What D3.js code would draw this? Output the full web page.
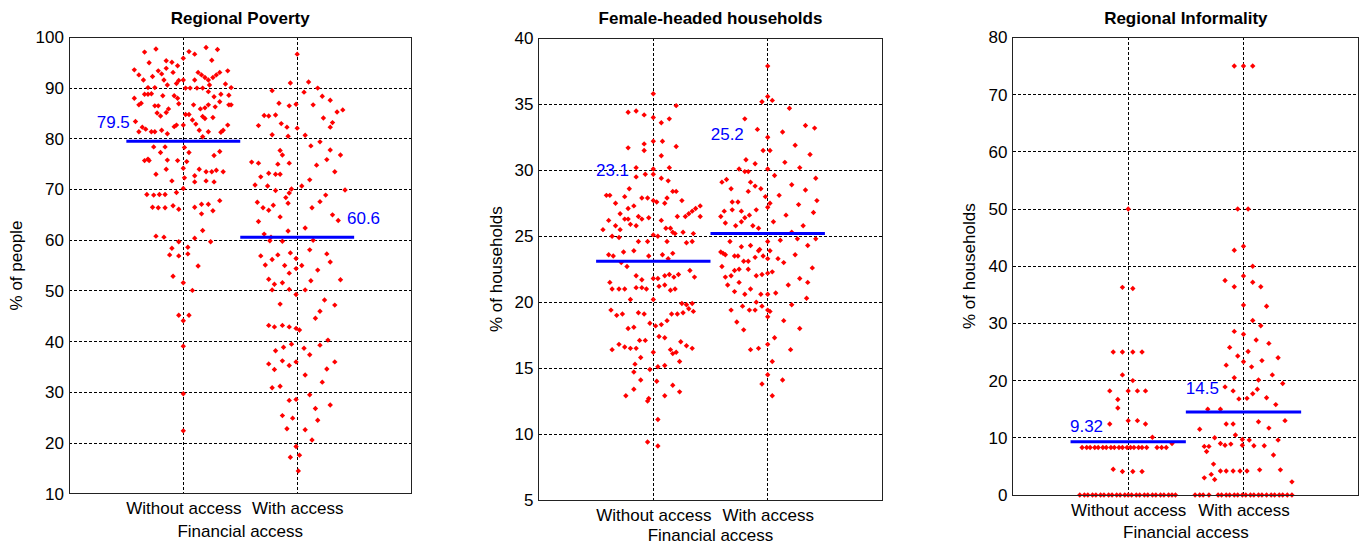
<!DOCTYPE html>
<html><head><meta charset="utf-8">
<script src="https://cdn.jsdelivr.net/npm/d3@7"></script>
<style>body{margin:0;background:#fff}svg{display:block}text{font-family:Arial,"Liberation Sans",sans-serif}</style>
</head><body><svg id="c" width="1361" height="546"></svg>
<script>
const categories = ["Without access", "With access"];
const titles = ["Regional Poverty", "Female-headed households", "Regional Informality"];
const yLabels = ["% of people", "% of households", "% of households"];
const xLabel = "Financial access";

const povertyTicks = [10,20,30,40,50,60,70,80,90,100];
const femaleTicks = [5,10,15,20,25,30,35,40];
const informalTicks = [0,10,20,30,40,50,60,70,80];

const povertyMeans = [79.5, 60.6];
const femaleMeans = [23.1, 25.2];
const informalMeans = [9.32, 14.5];

// [jitter offset from category, value]
const povertyWithout = [[-0.24,97.7],[0.20,98.0],[0.30,97.6],[-0.34,97.1],[0.05,97.2],[0.10,96.7],[0.00,95.9],[0.25,95.5],[-0.30,95.0],[-0.15,95.4],[-0.10,95.1],[-0.05,94.4],[-0.43,93.6],[-0.22,93.4],[-0.15,93.9],[-0.09,93.1],[0.16,92.6],[0.19,92.1],[0.22,91.6],[0.26,92.1],[0.29,92.6],[0.32,93.1],[0.39,93.4],[0.13,93.1],[-0.39,92.6],[-0.27,92.3],[-0.35,91.6],[-0.19,92.8],[-0.17,91.6],[-0.04,91.5],[0.00,91.6],[0.10,91.6],[-0.06,90.9],[-0.31,90.1],[-0.25,90.1],[-0.14,90.6],[0.02,90.0],[0.06,90.0],[0.12,90.0],[0.17,90.0],[0.23,90.6],[0.37,90.8],[0.42,90.1],[-0.34,88.8],[-0.31,88.8],[-0.28,88.9],[-0.18,88.5],[-0.08,88.5],[-0.05,88.0],[0.22,89.3],[0.27,88.3],[0.33,88.8],[0.40,88.6],[-0.43,88.0],[-0.37,87.0],[-0.39,86.7],[-0.25,86.5],[-0.22,86.5],[-0.15,85.2],[-0.13,85.9],[-0.04,86.9],[0.09,86.7],[0.15,85.9],[0.19,86.1],[0.22,86.7],[0.28,86.3],[0.32,87.3],[0.40,86.7],[0.42,86.7],[-0.23,85.1],[-0.20,84.5],[0.02,84.8],[0.05,84.8],[0.08,83.7],[0.11,82.9],[0.17,84.4],[0.19,84.0],[-0.42,83.4],[-0.39,81.4],[-0.36,82.3],[-0.33,81.9],[-0.28,81.4],[-0.25,81.4],[-0.19,81.7],[-0.14,81.0],[-0.08,82.4],[-0.06,82.7],[0.00,82.7],[0.14,81.7],[0.17,80.4],[0.22,81.4],[0.26,84.2],[0.33,81.3],[0.35,81.7],[0.39,82.7],[-0.26,78.4],[-0.16,78.4],[-0.20,77.3],[0.01,78.3],[0.05,77.3],[0.27,76.7],[0.32,77.5],[-0.34,75.7],[-0.31,76.0],[-0.30,75.7],[-0.14,75.8],[-0.05,75.7],[0.03,75.5],[-0.24,73.0],[-0.15,74.0],[0.00,74.2],[0.10,72.7],[0.14,74.0],[0.20,73.5],[0.25,73.5],[0.29,73.8],[0.35,73.5],[-0.10,71.7],[0.01,72.3],[0.10,71.5],[0.20,71.7],[0.27,71.5],[-0.06,69.4],[0.00,70.2],[-0.32,69.0],[-0.26,68.9],[-0.21,69.0],[-0.16,69.0],[-0.27,66.5],[-0.22,66.4],[-0.16,66.4],[-0.09,66.8],[-0.04,66.1],[0.10,66.5],[0.16,67.1],[0.22,67.1],[0.26,65.8],[0.32,67.8],[0.16,65.2],[-0.24,60.8],[-0.17,60.6],[-0.04,59.7],[0.10,60.4],[0.17,61.9],[0.24,59.7],[-0.10,58.4],[0.04,58.6],[-0.12,57.1],[-0.04,56.9],[0.04,57.3],[0.13,54.9],[-0.09,52.9],[0.00,51.6],[0.08,50.1],[-0.04,45.2],[0.05,45.2],[0.00,44.1],[0.00,39.1],[0.00,29.7],[0.00,22.4]];

const povertyWith = [[-0.06,91.0],[0.00,96.7],[-0.22,89.5],[-0.16,87.0],[-0.07,86.5],[-0.01,86.8],[-0.29,84.6],[-0.25,84.5],[-0.19,84.7],[-0.34,82.6],[-0.14,83.0],[-0.09,82.3],[-0.22,80.8],[-0.08,80.5],[0.00,82.1],[-0.15,77.7],[-0.13,76.8],[-0.40,75.4],[-0.34,75.2],[-0.17,75.0],[-0.07,75.2],[-0.25,73.2],[-0.32,72.5],[-0.19,73.0],[-0.15,73.0],[-0.37,70.9],[-0.26,70.7],[-0.19,69.8],[-0.10,68.4],[-0.07,69.3],[-0.05,70.1],[-0.35,67.5],[-0.30,66.4],[-0.25,65.9],[-0.21,66.9],[-0.15,64.6],[-0.08,67.3],[-0.34,63.7],[-0.29,61.2],[-0.23,60.6],[-0.08,61.8],[-0.24,59.9],[-0.13,59.8],[-0.32,56.9],[-0.22,56.2],[-0.17,57.1],[-0.06,57.5],[-0.01,56.4],[-0.28,55.1],[-0.11,55.0],[-0.01,54.4],[-0.07,53.5],[-0.25,52.3],[-0.20,51.3],[-0.13,51.6],[-0.22,50.2],[-0.07,50.3],[-0.01,49.3],[-0.15,47.4],[-0.25,43.2],[-0.20,42.9],[-0.13,43.2],[-0.07,42.9],[-0.01,42.6],[-0.05,39.5],[-0.12,38.9],[-0.19,38.2],[-0.13,36.2],[-0.25,35.6],[-0.20,34.5],[-0.07,35.3],[-0.01,36.0],[-0.22,30.9],[-0.15,31.2],[-0.07,28.4],[-0.01,28.6],[-0.13,25.4],[-0.04,24.9],[-0.09,22.8],[-0.01,19.3],[-0.06,17.2],[0.01,14.5],[0.18,90.0],[0.06,89.2],[0.29,87.6],[0.14,86.7],[0.40,85.7],[0.35,85.3],[0.23,84.1],[0.29,82.3],[0.07,80.7],[0.20,79.4],[0.29,77.8],[0.38,76.8],[0.17,74.8],[0.33,73.5],[0.11,71.9],[0.42,69.9],[0.25,68.9],[0.13,66.4],[0.31,65.0],[0.07,62.4],[0.11,58.1],[0.29,55.7],[0.18,54.1],[0.38,52.2],[0.07,50.2],[0.24,48.2],[0.33,47.2],[0.16,44.6],[0.02,42.3],[0.27,40.3],[0.20,39.3],[0.11,37.4],[0.33,36.0],[0.07,33.4],[0.22,32.0],[0.11,29.5],[0.29,27.5],[0.18,24.5],[0.07,22.6],[0.13,20.6],[0.02,17.6],[0.10,91.2],[0.22,88.4],[0.31,83.2],[0.12,78.6],[0.26,75.9],[0.04,70.7],[0.20,67.6],[0.36,63.9],[0.14,60.0],[0.26,57.3],[0.04,55.0],[0.12,52.0],[0.20,46.0],[0.06,38.7],[0.26,34.6],[0.16,26.8]];

const femaleWithout = [[0.00,35.8],[0.20,34.9],[-0.22,34.4],[-0.15,34.5],[-0.08,34.2],[0.00,34.0],[0.14,33.9],[0.07,33.6],[-0.22,31.7],[-0.08,32.0],[-0.08,31.5],[0.00,32.2],[0.08,32.2],[0.20,31.8],[0.07,31.1],[-0.15,30.2],[0.00,30.1],[-0.07,29.7],[0.00,29.7],[-0.15,29.5],[0.14,30.2],[0.07,29.4],[0.13,29.2],[-0.21,28.6],[-0.41,28.1],[-0.38,28.1],[-0.25,28.0],[-0.10,27.9],[-0.05,27.9],[-0.33,27.5],[0.00,27.7],[0.03,27.6],[0.10,27.5],[0.12,27.9],[0.17,28.4],[0.20,28.4],[0.25,27.7],[0.41,27.3],[0.37,27.1],[0.34,26.9],[0.31,26.7],[0.28,26.5],[-0.17,27.3],[-0.22,27.1],[-0.29,26.7],[-0.25,26.3],[-0.22,26.3],[-0.13,26.5],[-0.04,26.4],[-0.10,26.3],[-0.20,25.9],[-0.15,25.8],[-0.39,26.2],[-0.44,25.5],[-0.33,25.8],[-0.29,25.5],[0.07,26.2],[0.11,25.6],[0.15,25.6],[0.21,26.5],[0.26,25.3],[0.19,25.2],[0.00,25.1],[0.04,25.0],[-0.36,25.0],[-0.30,24.9],[-0.13,24.6],[-0.05,24.6],[0.35,25.2],[0.41,26.5],[0.29,24.5],[0.34,24.6],[0.12,24.6],[0.17,25.3],[-0.39,23.6],[-0.35,23.5],[-0.26,23.8],[-0.17,23.9],[-0.04,23.5],[0.08,23.6],[0.13,23.3],[0.17,23.7],[-0.23,22.7],[-0.28,23.0],[-0.15,22.0],[-0.10,21.7],[0.00,21.8],[0.04,21.8],[0.10,22.0],[0.14,22.1],[0.18,21.9],[0.22,22.1],[0.32,22.4],[0.36,21.9],[-0.38,21.5],[-0.36,21.0],[-0.30,21.0],[-0.25,21.0],[-0.15,21.1],[-0.10,21.1],[-0.06,21.0],[0.05,21.2],[0.10,21.3],[0.15,20.9],[0.19,21.0],[-0.20,20.2],[0.00,20.2],[0.25,19.9],[0.29,19.8],[0.34,19.9],[0.31,19.5],[0.35,19.3],[-0.37,19.4],[-0.32,19.0],[-0.27,19.1],[-0.13,19.2],[-0.08,19.1],[0.16,19.1],[0.21,19.1],[0.26,19.2],[0.12,18.6],[-0.03,18.4],[0.02,18.2],[0.07,18.3],[-0.22,18.0],[-0.17,18.1],[0.05,17.4],[0.10,17.3],[-0.07,17.1],[-0.12,17.1],[-0.30,16.8],[-0.36,16.4],[-0.25,16.6],[-0.20,16.5],[-0.15,16.5],[0.00,16.2],[0.24,17.0],[0.29,16.7],[0.34,16.5],[0.15,16.4],[0.20,16.2],[0.17,16.1],[-0.11,15.8],[0.23,15.5],[-0.16,15.3],[0.04,15.1],[0.10,15.2],[-0.03,14.9],[-0.17,14.7],[-0.11,14.1],[0.03,14.0],[0.17,13.7],[0.23,13.2],[-0.17,13.4],[-0.24,12.9],[0.10,12.9],[-0.04,12.7],[-0.05,12.5],[0.04,11.1],[-0.05,9.4],[0.04,9.1]];

const femaleWith = [[0.00,37.9],[0.00,35.6],[-0.05,35.2],[-0.09,33.1],[-0.20,33.9],[0.00,32.5],[-0.04,31.5],[-0.19,30.8],[-0.11,30.5],[-0.25,30.1],[-0.20,29.9],[-0.17,29.9],[0.00,30.1],[-0.40,29.1],[-0.36,29.3],[-0.32,28.6],[-0.15,29.1],[-0.11,28.8],[-0.06,28.6],[-0.17,28.4],[-0.31,27.6],[-0.26,27.6],[-0.02,28.0],[-0.38,26.9],[-0.41,26.5],[-0.31,27.0],[-0.23,26.9],[-0.16,26.6],[-0.10,27.0],[0.00,27.2],[-0.37,26.0],[-0.28,25.8],[-0.23,26.1],[-0.20,26.4],[-0.13,25.8],[-0.08,25.6],[-0.33,24.6],[-0.23,24.2],[-0.15,24.3],[-0.07,24.0],[0.00,24.6],[-0.39,23.7],[-0.41,23.8],[-0.37,23.6],[-0.29,23.5],[-0.26,23.5],[-0.21,23.1],[-0.17,23.1],[-0.11,23.4],[-0.08,23.9],[-0.04,23.5],[0.00,23.3],[-0.40,22.7],[-0.37,21.9],[-0.32,22.0],[-0.29,22.4],[-0.25,22.5],[-0.17,22.5],[-0.10,22.0],[-0.05,22.1],[0.00,22.2],[-0.35,21.3],[-0.25,21.5],[-0.29,20.8],[-0.20,20.6],[-0.15,21.0],[-0.06,20.6],[0.00,20.6],[-0.10,20.0],[-0.22,19.7],[-0.32,19.4],[-0.16,19.4],[-0.11,19.4],[-0.05,19.7],[0.00,19.4],[0.00,18.9],[-0.27,18.5],[-0.21,17.9],[-0.08,16.5],[-0.15,16.4],[0.00,16.8],[0.00,14.5],[-0.05,13.8],[0.04,35.3],[0.19,34.7],[0.33,33.4],[0.41,33.2],[0.13,32.9],[0.24,31.9],[0.02,31.5],[0.37,31.2],[0.15,30.6],[0.28,30.2],[0.06,29.6],[0.42,29.4],[0.21,28.9],[0.33,28.5],[0.10,28.1],[0.02,27.5],[0.27,27.4],[0.40,26.8],[0.16,26.6],[0.05,26.1],[0.31,25.8],[0.21,25.3],[0.11,24.7],[0.35,24.3],[0.02,23.9],[0.24,23.6],[0.14,23.0],[0.39,22.6],[0.04,22.3],[0.28,21.8],[0.18,21.3],[0.07,20.7],[0.34,20.3],[0.21,19.8],[0.02,19.3],[0.14,18.6],[0.28,18.0],[0.06,17.3],[0.20,16.4],[0.04,15.5],[0.13,14.1],[0.42,24.8],[0.43,27.7],[0.09,23.3],[0.26,24.8],[0.35,21.5],[0.04,12.9]];

const informalWithout = [[0.00,50.0],[-0.05,36.3],[0.04,36.1],[-0.13,25.0],[-0.05,25.0],[0.04,25.0],[0.12,25.0],[-0.05,21.0],[0.04,20.0],[-0.16,18.2],[0.00,18.2],[0.08,18.2],[0.15,18.2],[-0.09,16.7],[-0.09,15.2],[0.00,13.0],[0.08,13.0],[-0.16,12.4],[0.15,12.4],[0.21,10.1],[0.38,9.0],[-0.40,8.3],[-0.36,8.3],[-0.33,8.3],[-0.29,8.3],[-0.26,8.3],[-0.22,8.3],[-0.19,8.3],[-0.15,8.3],[-0.12,8.3],[-0.08,8.3],[-0.05,8.3],[-0.01,8.3],[0.02,8.3],[0.05,8.3],[0.09,8.3],[0.12,8.3],[0.16,8.3],[0.25,8.3],[0.29,8.3],[0.33,8.3],[-0.13,4.5],[-0.05,4.1],[0.04,4.1],[0.12,4.1],[-0.42,0],[-0.38,0],[-0.35,0],[-0.31,0],[-0.28,0],[-0.24,0],[-0.21,0],[-0.17,0],[-0.14,0],[-0.10,0],[-0.07,0],[-0.03,0],[0.00,0],[0.03,0],[0.07,0],[0.10,0],[0.14,0],[0.17,0],[0.21,0],[0.24,0],[0.28,0],[0.31,0],[0.35,0],[0.38,0],[0.41,0]];

const informalWith = [[-0.08,75.0],[0.00,75.0],[0.08,75.0],[-0.05,50.0],[0.04,50.0],[-0.08,42.8],[0.00,43.5],[0.08,40.0],[-0.16,37.5],[0.00,38.3],[0.08,37.2],[-0.08,36.4],[0.15,36.4],[0.00,33.2],[0.08,30.5],[-0.08,28.6],[0.00,28.1],[0.11,27.1],[-0.12,25.8],[0.04,25.1],[-0.05,24.3],[0.00,23.3],[0.07,22.4],[-0.15,22.7],[-0.08,20.5],[0.13,20.1],[-0.16,18.9],[-0.09,18.2],[-0.04,16.8],[0.03,16.9],[0.08,17.7],[-0.31,15.0],[-0.20,15.0],[-0.38,11.5],[-0.15,12.4],[-0.09,12.4],[-0.07,10.5],[-0.25,10.0],[-0.01,9.7],[-0.34,8.5],[-0.30,8.5],[-0.32,7.6],[-0.20,9.0],[-0.16,8.7],[-0.11,8.9],[-0.01,8.7],[0.05,9.6],[-0.26,5.4],[-0.28,3.6],[-0.25,2.7],[-0.34,3.0],[-0.20,4.2],[-0.15,4.2],[-0.09,4.2],[-0.03,4.2],[0.03,4.2],[0.20,33.0],[0.15,29.6],[0.22,26.5],[0.30,24.0],[0.16,23.5],[0.25,21.0],[0.34,19.5],[0.12,18.5],[0.20,17.0],[0.28,15.8],[0.36,13.0],[0.13,12.8],[0.22,11.7],[0.30,9.6],[0.09,8.6],[0.18,8.6],[0.26,7.0],[0.14,4.4],[0.32,4.4],[0.42,2.3],[-0.42,0],[-0.38,0],[-0.35,0],[-0.30,0],[-0.22,0],[-0.19,0],[-0.15,0],[-0.12,0],[-0.08,0],[-0.05,0],[-0.01,0],[0.02,0],[0.06,0],[0.09,0],[0.13,0],[0.16,0],[0.20,0],[0.24,0],[0.27,0],[0.31,0],[0.34,0],[0.38,0],[0.42,0]];

const panels = [
  {title: titles[0], ylab: yLabels[0], ticks: povertyTicks, groups: [povertyWithout, povertyWith], means: povertyMeans},
  {title: titles[1], ylab: yLabels[1], ticks: femaleTicks, groups: [femaleWithout, femaleWith], means: femaleMeans},
  {title: titles[2], ylab: yLabels[2], ticks: informalTicks, groups: [informalWithout, informalWith], means: informalMeans}
];

// layout (pixels) and label placements (data units)
const layout = [
  {left: 69.4, right: 411.1, top: 37.4, bottom: 493.7, ylabX: 22, labels: [[0.24, 83.3], [2.437, 64.4]]},
  {left: 538.9, right: 882.1, top: 38.4, bottom: 500, ylabX: 501.5, labels: [[0.499, 30.0], [1.502, 32.75]]},
  {left: 1012.9, right: 1358.8, top: 37.4, bottom: 495, ylabX: 975, labels: [[0.495, 12.1], [1.50, 18.7]]}
];

const svg = d3.select("#c");
const FS = 17;
const fmt = d3.format(".3");
const diamond = "M0,-2.7L2.7,0L0,2.7L-2.7,0Z";

panels.forEach((p, i) => {
  const L = layout[i];
  const x = d3.scaleLinear().domain([0, 3]).range([L.left, L.right]);
  const y = d3.scaleLinear().domain(d3.extent(p.ticks)).range([L.bottom, L.top]);
  const g = svg.append("g");

  // grid
  g.append("g").selectAll("line").data(p.ticks).join("line")
    .attr("x1", L.left).attr("x2", L.right)
    .attr("y1", d => y(d)).attr("y2", d => y(d))
    .attr("stroke", "#000").attr("stroke-width", 1).attr("stroke-dasharray", "3,2")
    .attr("shape-rendering", "crispEdges");
  g.append("g").selectAll("line").data([1, 2]).join("line")
    .attr("x1", d => x(d)).attr("x2", d => x(d))
    .attr("y1", L.top).attr("y2", L.bottom)
    .attr("stroke", "#000").attr("stroke-width", 1).attr("stroke-dasharray", "3,2")
    .attr("shape-rendering", "crispEdges");

  // points
  p.groups.forEach((grp, gi) => {
    g.append("g").selectAll("path").data(grp).join("path")
      .attr("d", diamond)
      .attr("transform", d => `translate(${x(gi + 1 + d[0])},${y(d[1])})`)
      .attr("fill", "#ff0000");
  });

  // mean lines
  g.append("g").selectAll("line").data(p.means).join("line")
    .attr("x1", (d, k) => x(k + 0.5)).attr("x2", (d, k) => x(k + 1.5))
    .attr("y1", d => y(d)).attr("y2", d => y(d))
    .attr("stroke", "#0000ff").attr("stroke-width", 3);

  // mean labels
  g.append("g").selectAll("text").data(p.means).join("text")
    .attr("x", (d, k) => x(L.labels[k][0]))
    .attr("y", (d, k) => y(L.labels[k][1]))
    .attr("dy", "0.35em")
    .attr("fill", "#0000ff").attr("font-size", FS)
    .text(d => fmt(d));

  // box
  g.append("rect").attr("x", L.left).attr("y", L.top)
    .attr("width", L.right - L.left).attr("height", L.bottom - L.top)
    .attr("fill", "none").attr("stroke", "#222").attr("stroke-width", 1)
    .attr("shape-rendering", "crispEdges");

  // axes
  const ya = g.append("g").attr("transform", `translate(${L.left},0)`)
    .call(d3.axisLeft(y).tickValues(p.ticks).tickSize(0).tickPadding(5.5));
  ya.select(".domain").remove();
  ya.selectAll("text").attr("font-size", FS).attr("fill", "#000").attr("font-family", null);

  const xa = g.append("g").attr("transform", `translate(0,${L.bottom})`)
    .call(d3.axisBottom(x).tickValues([1, 2]).tickFormat((d) => categories[d - 1]).tickSize(0).tickPadding(8.5));
  xa.select(".domain").remove();
  xa.selectAll("text").attr("font-size", FS).attr("fill", "#000").attr("font-family", null);

  // x label
  g.append("text").attr("x", (L.left + L.right) / 2).attr("y", Math.min(L.bottom + 43, 541))
    .attr("text-anchor", "middle").attr("font-size", FS).attr("fill", "#000").text(xLabel);

  // y label
  g.append("text").attr("transform", `translate(${L.ylabX},${(L.top + L.bottom) / 2}) rotate(-90)`)
    .attr("text-anchor", "middle").attr("font-size", FS).attr("fill", "#000").text(p.ylab);

  // title
  g.append("text").attr("x", (L.left + L.right) / 2).attr("y", 23.8)
    .attr("text-anchor", "middle").attr("font-size", FS).attr("font-weight", "bold")
    .attr("fill", "#000").text(p.title);
});
</script>
</body></html>
